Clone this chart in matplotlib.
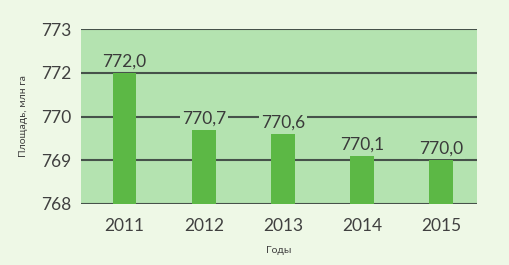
import matplotlib.pyplot as plt

# data
years = ["2011", "2012", "2013", "2014", "2015"]
area = [772.0, 770.7, 770.6, 770.1, 770.0]
value_labels = ["772,0", "770,7", "770,6", "770,1", "770,0"]
# tick labels as printed on the original (it skips 771)
ytick_pos = [769, 770, 771, 772, 773]
ytick_labels = ["768", "769", "770", "772", "773"]

plt.rcParams['font.family'] = ['Lato', 'DejaVu Sans']

fig = plt.figure(figsize=(5.1, 2.65), dpi=100)
fig.patch.set_facecolor('#eef8e6')
ax = fig.add_axes([81 / 510, 1 - 204 / 265, (477 - 81) / 510, (204 - 29) / 265])
ax.set_facecolor('#b4e3b0')

x = range(len(years))
ax.bar(x, [v - 769 for v in area], bottom=769, width=0.3, color='#5cb845', zorder=3)

for xi, v, lab in zip(x, area, value_labels):
    ax.annotate(lab, (xi, v), xytext=(0, 2.5), textcoords='offset points',
                ha='center', va='bottom', fontsize=12.5, color='#3a3a3a', zorder=4,
                bbox=dict(boxstyle='square,pad=0.1', fc='#b4e3b0', ec='none'))

ax.set_ylim(769, 773)
ax.set_xlim(-0.55, 4.45)
ax.set_yticks(ytick_pos)
ax.set_yticklabels(ytick_labels)
ax.set_xticks(list(x))
ax.set_xticklabels(years)
ax.grid(axis='y', color='#46524a', linewidth=1.5, zorder=1)
ax.set_axisbelow(True)
for s in ax.spines.values():
    s.set_visible(False)
ax.tick_params(axis='both', length=0, labelsize=12.5, colors='#404040')
ax.tick_params(axis='x', pad=10)
ax.tick_params(axis='y', pad=7)
ax.set_ylabel("Площадь, млн га", fontsize=7.5, color='#404040', labelpad=9)
ax.set_xlabel("Годы", fontsize=7.5, color='#404040', labelpad=9)

fig.savefig("out.png", dpi=100, facecolor=fig.get_facecolor())
